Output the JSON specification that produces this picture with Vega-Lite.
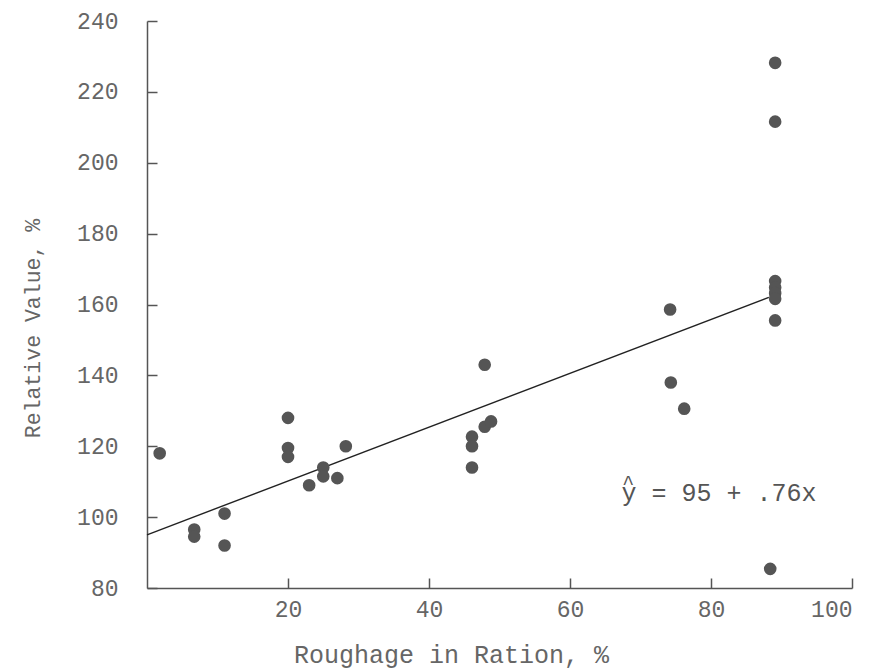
{
  "$schema": "https://vega.github.io/schema/vega-lite/v6.json",
  "width": 705,
  "height": 567,
  "autosize": "none",
  "padding": {"left": 147, "top": 21, "right": 30, "bottom": 82},
  "background": "white",
  "config": {
    "view": {"stroke": null},
    "font": "Liberation Mono"
  },
  "datasets": {
    "points": [
      {"roughage": 1.8, "value": 118},
      {"roughage": 6.7, "value": 96.5},
      {"roughage": 6.7, "value": 94.5},
      {"roughage": 11, "value": 101},
      {"roughage": 11, "value": 92},
      {"roughage": 20, "value": 128},
      {"roughage": 20, "value": 119.5},
      {"roughage": 20, "value": 117},
      {"roughage": 23, "value": 109},
      {"roughage": 25, "value": 114},
      {"roughage": 25, "value": 111.5},
      {"roughage": 27, "value": 111},
      {"roughage": 28.2, "value": 120},
      {"roughage": 46.1, "value": 122.7},
      {"roughage": 46.1, "value": 120},
      {"roughage": 46.1, "value": 114},
      {"roughage": 47.9, "value": 143},
      {"roughage": 47.9, "value": 125.5},
      {"roughage": 48.8, "value": 127},
      {"roughage": 74.2, "value": 158.6},
      {"roughage": 74.3, "value": 138},
      {"roughage": 76.2, "value": 130.6},
      {"roughage": 89.1, "value": 228.2},
      {"roughage": 89.1, "value": 211.6},
      {"roughage": 89.1, "value": 166.6},
      {"roughage": 89.1, "value": 164.8},
      {"roughage": 89.1, "value": 163.2},
      {"roughage": 89.1, "value": 161.6},
      {"roughage": 89.1, "value": 155.5},
      {"roughage": 88.4, "value": 85.4}
    ],
    "fit": [
      {"roughage": 0, "value": 95},
      {"roughage": 88.2, "value": 162}
    ],
    "notes": [
      {"roughage": 67.3, "value": 106.8, "label": "y = 95 + .76x", "size": "big"},
      {"roughage": 67.4, "value": 109.6, "label": "^", "size": "small"}
    ]
  },
  "encoding": {
    "x": {
      "field": "roughage",
      "type": "quantitative",
      "scale": {"domain": [0, 100], "nice": false, "zero": false},
      "axis": {
        "values": [20, 40, 60, 80, 100],
        "title": "Roughage in Ration, %",
        "grid": false,
        "domainColor": "#555",
        "domainWidth": 1.5,
        "tickColor": "#555",
        "tickWidth": 1.5,
        "tickSize": -10,
        "labelPadding": 20,
        "labelFont": "Liberation Mono",
        "labelFontSize": 23,
        "labelFontWeight": "normal",
        "labelColor": "#666",
        "titleFont": "Liberation Mono",
        "titleFontSize": 25,
        "titleFontWeight": "normal",
        "titleColor": "#666",
        "titleX": 304,
        "titleY": 66,
        "titleAlign": "center",
        "titleBaseline": "middle"
      }
    },
    "y": {
      "field": "value",
      "type": "quantitative",
      "scale": {"domain": [80, 240], "nice": false, "zero": false},
      "axis": {
        "values": [80, 100, 120, 140, 160, 180, 200, 220, 240],
        "title": "Relative Value, %",
        "grid": false,
        "domainColor": "#555",
        "domainWidth": 1.5,
        "tickColor": "#555",
        "tickWidth": 1.5,
        "tickSize": -10,
        "labelPadding": 39,
        "labelFont": "Liberation Mono",
        "labelFontSize": 23,
        "labelFontWeight": "normal",
        "labelColor": "#666",
        "titleFont": "Liberation Mono",
        "titleFontSize": 21.5,
        "titleFontWeight": "normal",
        "titleColor": "#666",
        "titleX": -114,
        "titleY": 307,
        "titleAngle": 270,
        "titleAlign": "center",
        "titleBaseline": "middle"
      }
    }
  },
  "layer": [
    {
      "data": {"name": "fit"},
      "mark": {"type": "line", "color": "#222", "strokeWidth": 1.4}
    },
    {
      "data": {"name": "points"},
      "mark": {"type": "circle", "size": 160, "color": "#555", "opacity": 1}
    },
    {
      "data": {"name": "notes"},
      "mark": {"type": "text", "align": "left", "baseline": "middle", "font": "Liberation Mono", "color": "#555"},
      "encoding": {
        "text": {"field": "label"},
        "size": {"field": "size", "type": "nominal", "scale": {"domain": ["big", "small"], "range": [25, 20]}, "legend": null}
      }
    }
  ]
}
